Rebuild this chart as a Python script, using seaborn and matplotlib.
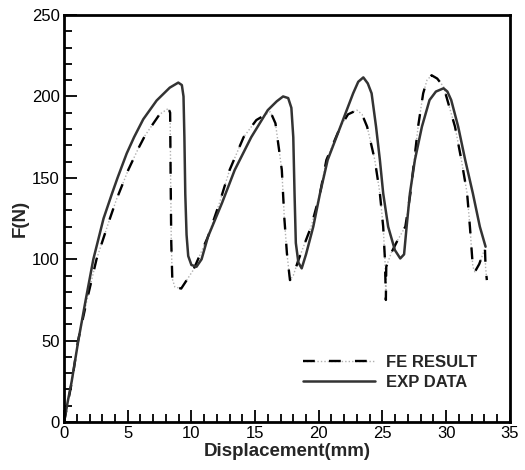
#!/usr/bin/env python

import matplotlib
matplotlib.use('Agg')
import matplotlib.pyplot as plt
import matplotlib.ticker as ticker
from matplotlib.legend_handler import HandlerTuple
import pandas as pd
import seaborn as sns

# experimental curve (displacement mm, force N)
EXP_X = [0.0, 0.3, 0.6, 1.12, 1.7, 2.3, 3.1, 3.75, 4.2, 4.92, 5.5, 6.22,
         7.27, 8.3, 8.97, 9.25, 9.38, 9.45, 9.52, 9.62, 9.75, 10.0, 10.4,
         10.8, 11.3, 12.4, 13.4, 14.7, 16.0, 16.7, 17.2, 17.6, 17.85, 18.0,
         18.1, 18.2, 18.4, 18.66, 19.0, 19.57, 20.1, 20.7, 21.7, 22.7, 23.1,
         23.5, 23.85, 24.15, 24.5, 24.8, 25.06, 25.45, 25.98, 26.4, 26.7,
         26.9, 27.16, 27.55, 28.1, 28.7, 29.2, 29.8, 30.1, 30.4, 30.95,
         31.5, 32.1, 32.65, 33.1]
EXP_Y = [0, 13, 25, 50, 75, 100, 125, 140, 150, 165, 175, 186, 197.5,
         205.4, 208.5, 207, 200, 175, 140, 115, 102, 96.5, 95.4, 100, 113.8,
         134.5, 154.8, 175, 191.6, 197, 200, 199, 193, 175, 140, 110, 98,
         94.4, 103, 120, 140.5, 161, 181.4, 201.9, 209, 211.7, 208, 201.9,
         181.4, 161, 140.5, 120, 105.6, 100.5, 103, 120, 140.5, 161, 181.4,
         197.8, 203, 205, 203, 197.8, 181.4, 161, 140.5, 120, 107.7]

# FE simulation curve
FE_X = [0.0, 0.3, 0.6, 1.1, 1.8, 2.55, 3.6, 4.13, 5.05, 5.83, 6.36, 7.5,
        8.2, 8.33, 8.37, 8.42, 8.5, 8.7, 9.2, 10.15, 11.3, 12.2, 13.0,
        14.1, 15.1, 16.2, 16.6, 17.1, 17.3, 17.5, 17.74, 18.0, 18.4, 19.4,
        20.1, 20.6, 21.7, 22.3, 23.0, 23.4, 23.8, 24.4, 24.8, 25.06, 25.2,
        25.27, 25.3, 25.7, 26.2, 26.8, 27.2, 27.5, 27.8, 28.2, 28.5, 28.86,
        29.3, 29.8, 30.7, 31.2, 31.65, 31.87, 32.1, 32.26, 32.6, 33.05,
        33.1, 33.2]
FE_Y = [0, 12, 24, 50, 75, 100, 125, 137, 155, 168, 176, 189, 192.7,
        190, 150, 110, 88, 83, 82, 93.4, 113.8, 134.5, 154.8, 175, 185.5,
        190.6, 183.5, 154.8, 125, 103.7, 87.2, 90, 99.5, 120, 140.5, 161,
        181.4, 189, 191.6, 189, 181.4, 161, 140.5, 120, 99.5, 75, 95.4, 104,
        111.8, 120, 140.5, 161, 181.4, 201.9, 210, 213, 211, 206, 181.4,
        161, 140.5, 120, 95.4, 92.3, 97, 106.7, 95, 87.2]

FE_LABEL = 'FE RESULT'
EXP_LABEL = 'EXP DATA'


def main():
    fe = pd.DataFrame({'x': FE_X, 'y': FE_Y})
    exp = pd.DataFrame({'x': EXP_X, 'y': EXP_Y})

    sns.set_style('ticks')
    plt.rcParams['font.family'] = ['Liberation Sans', 'DejaVu Sans']

    fig = plt.figure(figsize=(5.25, 4.7), dpi=100)
    ax = fig.add_axes([0.122, 0.102, 0.849, 0.866])

    # FE result: faint dotted under-layer plus black dashes on top
    sns.lineplot(x='x', y='y', data=fe, ax=ax, estimator=None, sort=False,
                 color='#b0b0b0', lw=1.0, linestyle=(0, (1, 1.5)))
    sns.lineplot(x='x', y='y', data=fe, ax=ax, estimator=None, sort=False,
                 color='black', lw=1.7, linestyle=(0, (5, 6)))
    sns.lineplot(x='x', y='y', data=exp, ax=ax, estimator=None, sort=False,
                 color='#333333', lw=1.8)

    lines = ax.get_lines()
    handles = [(lines[0], lines[1]), lines[2]]
    ax.legend(handles, [FE_LABEL, EXP_LABEL],
              handler_map={tuple: HandlerTuple(ndivide=1)},
              loc='lower right', bbox_to_anchor=(0.96, 0.043),
              frameon=False, handlelength=4.3, handletextpad=0.66,
              labelspacing=0.3, prop={'weight': 'bold', 'size': 12})

    ax.set(xlim=(0, 35), ylim=(0, 250))
    ax.set_xlabel('Displacement(mm)', fontsize=13.5, fontweight='bold',
                  labelpad=1)
    ax.set_ylabel('F(N)', fontsize=13.5, fontweight='bold', labelpad=2)

    ax.xaxis.set_major_locator(ticker.MultipleLocator(5))
    ax.xaxis.set_minor_locator(ticker.MultipleLocator(1))
    ax.yaxis.set_major_locator(ticker.MultipleLocator(50))
    ax.yaxis.set_minor_locator(ticker.MultipleLocator(10))
    ax.tick_params(which='both', direction='in', width=1.3, labelsize=12,
                   top=False, right=False, colors='black')
    ax.tick_params(which='major', length=9, pad=3)
    ax.tick_params(which='minor', length=5.5)
    for spine in ax.spines.values():
        spine.set_linewidth(2)
        spine.set_color('black')

    fig.savefig('out.png', dpi=100)
    plt.close(fig)


if __name__ == '__main__':
    main()
